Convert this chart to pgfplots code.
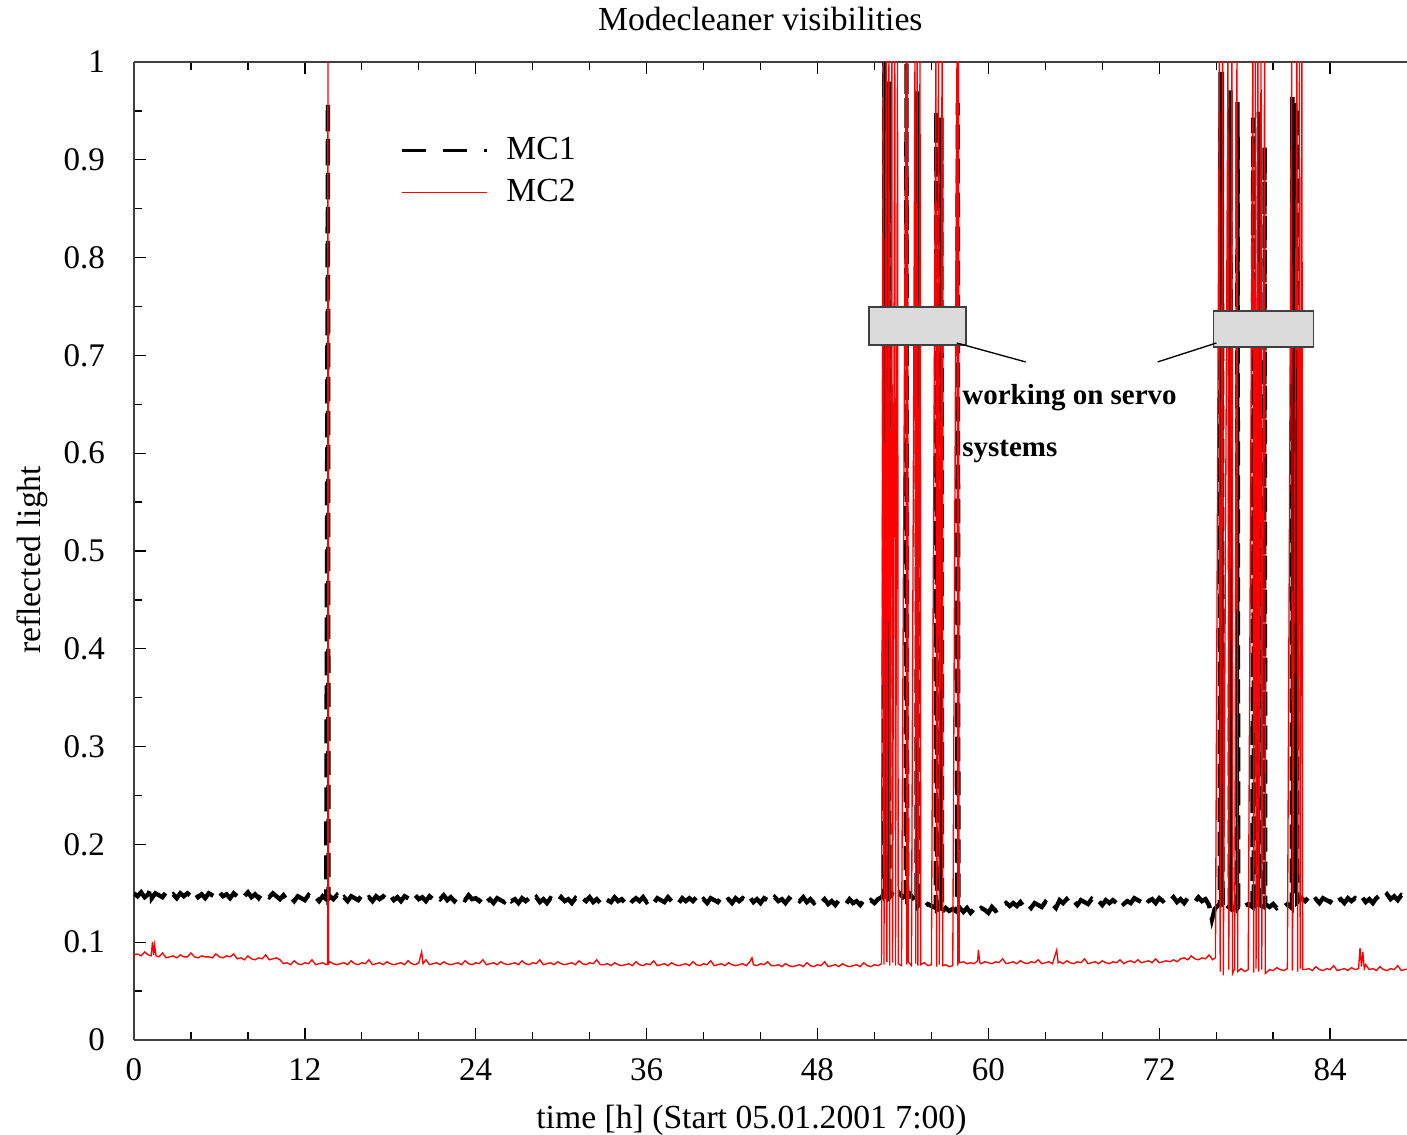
\documentclass[border=0pt]{standalone}
\usepackage{fontspec}
\setmainfont{Liberation Serif}
\usepackage{pgfplots}
\pgfplotsset{compat=1.18}
\begin{document}
\fontsize{10.1}{12}\selectfont
\begin{tikzpicture}
\begin{axis}[
    scale only axis, width=381.9pt, height=293.4pt,
    xmin=0, xmax=89.4, ymin=0, ymax=1,
    axis y line*=left,
    xtick={0,12,24,36,48,60,72,84},
    ytick={0,0.1,0.2,0.3,0.4,0.5,0.6,0.7,0.8,0.9,1},
    minor x tick num=2, minor y tick num=1,
    major tick length=3.6pt, minor tick length=2.4pt,
    tick style={black, line width=0.4pt},
    axis line style={black!75, line width=0.5pt},
    /pgf/number format/assume math mode=true,
    yticklabel style={anchor=east, inner sep=0pt, xshift=-8.5pt, font=\fontsize{9.9}{12}\selectfont, /pgf/number format/fixed},
    xticklabel style={anchor=base, inner sep=0pt, yshift=-12.3pt, font=\fontsize{9.9}{12}\selectfont},
    xlabel={time [h] (Start 05.01.2001 7:00)},
    xlabel style={at={(0.485,-0.0905)}, anchor=base, inner sep=0pt},
    ylabel={reflected light},
    ylabel style={at={(-0.0738,0.491)}, anchor=base, inner sep=0pt},
    legend style={draw=none, fill=none, at={(0.209,0.931)}, anchor=north west,
        inner sep=0pt, row sep=0.4pt, nodes={inner sep=2pt},
        /tikz/every odd column/.append style={column sep=3.3pt}},
    legend cell align=left,
    legend image code/.code={\draw[#1] (0pt,0pt) -- (25.5pt,0pt);},
]
\addlegendimage{black, line width=0.9pt, dash pattern=on 7.2pt off 5.1pt}
\addlegendentry{MC1}
\addlegendimage{red, line width=0.4pt}
\addlegendentry{MC2}
% MC1
\addplot[black, line width=1.3pt, dash pattern=on 7.2pt off 3pt, forget plot] coordinates {
(0,0.150) (0.25,0.147) (0.5,0.151) (0.75,0.146) (1,0.149) (1.2,0.156) (1.25,0.145) (1.5,0.150)
(1.75,0.148) (2,0.146) (2.25,0.151) (2.5,0.147) (2.75,0.149) (3,0.145) (3.25,0.150) (3.5,0.147)
(3.75,0.150) (4,0.147) (4.25,0.151) (4.5,0.146) (4.75,0.149) (5,0.145) (5.25,0.150) (5.5,0.148)
(5.75,0.146) (6,0.151) (6.25,0.147) (6.5,0.149) (6.75,0.145) (7,0.150) (7.25,0.147) (7.5,0.150)
(7.75,0.147) (8,0.151) (8.25,0.146) (8.5,0.149) (8.75,0.145) (9,0.150) (9.25,0.148) (9.5,0.146)
(9.75,0.150)
(10,0.147) (10.25,0.144) (10.5,0.148) (10.75,0.143) (11,0.146) (11.25,0.142) (11.5,0.147)
(11.75,0.145) (12,0.143) (12.25,0.148) (12.5,0.144) (12.75,0.146) (13,0.142) (13.25,0.147)
(13.5,0.144) (13.62,0.960) (13.66,0.145) (13.75,0.147) (14,0.144) (14.25,0.148) (14.5,0.143)
(14.75,0.146) (15,0.142) (15.25,0.147) (15.5,0.145) (15.75,0.143) (16,0.148) (16.25,0.144)
(16.5,0.146) (16.75,0.142) (17,0.147) (17.25,0.144) (17.5,0.147) (17.75,0.144) (18,0.148)
(18.25,0.143) (18.5,0.146) (18.75,0.142) (19,0.147) (19.25,0.145) (19.5,0.143) (19.75,0.148)
(20,0.144) (20.25,0.146) (20.5,0.142) (20.75,0.147) (21,0.144) (21.25,0.147) (21.5,0.144)
(21.75,0.148) (22,0.143) (22.25,0.146) (22.5,0.142) (22.75,0.147) (23,0.145) (23.25,0.143)
(23.5,0.148) (23.75,0.144)
(24,0.145) (24.25,0.142) (24.5,0.146) (24.75,0.141) (25,0.144) (25.25,0.140) (25.5,0.145)
(25.75,0.143) (26,0.141) (26.25,0.146) (26.5,0.142) (26.75,0.144) (27,0.140) (27.25,0.145)
(27.5,0.142) (27.75,0.145) (28,0.142) (28.25,0.146) (28.5,0.141) (28.75,0.144) (29,0.140)
(29.25,0.145) (29.5,0.143) (29.75,0.141) (30,0.146) (30.25,0.142) (30.5,0.144) (30.75,0.140)
(31,0.145) (31.25,0.142) (31.5,0.145) (31.75,0.142) (32,0.146) (32.25,0.141) (32.5,0.144)
(32.75,0.140) (33,0.145) (33.25,0.143) (33.5,0.141) (33.75,0.146) (34,0.142) (34.25,0.144)
(34.5,0.140) (34.75,0.145) (35,0.142) (35.25,0.145) (35.5,0.142) (35.75,0.146) (36,0.141)
(36.25,0.144) (36.5,0.140) (36.75,0.145) (37,0.143) (37.25,0.141) (37.5,0.146) (37.75,0.142)
(38,0.144) (38.25,0.140) (38.5,0.145) (38.75,0.142) (39,0.145) (39.25,0.142) (39.5,0.146)
(39.75,0.141) (40,0.144) (40.25,0.140) (40.5,0.145) (40.75,0.143) (41,0.141) (41.25,0.146)
(41.5,0.142) (41.75,0.144) (42,0.140) (42.25,0.145) (42.5,0.142) (42.75,0.145) (43,0.142)
(43.25,0.146) (43.5,0.141) (43.75,0.144) (44,0.140) (44.25,0.145) (44.5,0.143) (44.75,0.141)
(45,0.146) (45.25,0.142) (45.5,0.144) (45.75,0.140) (46,0.145) (46.25,0.142) (46.5,0.145)
(46.75,0.142) (47,0.146) (47.25,0.141) (47.5,0.144) (47.75,0.140)
(48,0.143) (48.25,0.140) (48.5,0.144) (48.75,0.139) (49,0.142) (49.25,0.138) (49.5,0.143)
(49.75,0.141) (50,0.139) (50.25,0.144) (50.5,0.140) (50.75,0.142) (51,0.138) (51.25,0.143)
(51.5,0.140) (51.75,0.143) (52,0.140) (52.25,0.144)
(52.5,0.146) (52.65,0.149) (52.7,1.0) (52.75,0.147) (52.95,0.150) (53.0,0.980) (53.05,0.146)
(53.25,0.149) (53.5,0.145) (53.75,0.150) (54.0,0.146) (54.2,0.148) (54.25,1.0) (54.3,0.145)
(54.5,0.149) (54.75,0.144) (54.95,0.140) (55.0,0.970) (55.05,0.137) (55.25,0.140) (55.5,0.136)
(55.75,0.139) (56.0,0.137) (56.3,0.135) (56.35,0.950) (56.4,0.133) (56.65,0.135) (56.7,0.943)
(56.75,0.131) (57.0,0.135) (57.25,0.132) (57.5,0.134) (57.8,0.131) (57.85,0.958) (57.9,0.134)
(58,0.135) (58.25,0.131) (58.5,0.135) (58.75,0.130) (59,0.134) (59.25,0.131) (59.5,0.135)
(59.75,0.133) (60,0.130) (60.25,0.136) (60.5,0.132) (60.75,0.134)
(61,0.136) (61.25,0.140) (61.5,0.137) (61.75,0.140) (62,0.137) (62.25,0.141) (62.5,0.136)
(62.75,0.139) (63,0.135) (63.25,0.140) (63.5,0.138) (63.75,0.136) (64,0.141) (64.25,0.137)
(64.5,0.139) (64.75,0.135)
(65,0.143) (65.25,0.140) (65.5,0.144) (65.75,0.139) (66,0.142) (66.25,0.138) (66.5,0.143)
(66.75,0.141) (67,0.139) (67.25,0.144) (67.5,0.140) (67.75,0.142) (68,0.138) (68.25,0.143)
(68.5,0.140) (68.75,0.143) (69,0.140) (69.25,0.144) (69.5,0.139) (69.75,0.142)
(70,0.140) (70.25,0.145) (70.5,0.143) (70.75,0.141) (71,0.146) (71.25,0.142) (71.5,0.144)
(71.75,0.140) (72,0.145) (72.25,0.142) (72.5,0.145) (72.75,0.142) (73,0.146) (73.25,0.141)
(73.5,0.144) (73.75,0.140) (74,0.145) (74.25,0.143) (74.5,0.141) (74.75,0.146) (75,0.142)
(75.25,0.144)
(75.5,0.138) (75.7,0.123) (75.9,0.134) (76.1,0.137) (76.25,0.139) (76.3,0.990) (76.35,0.136)
(76.4,0.990) (76.45,0.134) (76.7,0.138) (76.95,0.135) (77.0,0.971) (77.05,0.137) (77.25,0.134)
(77.45,0.139) (77.5,0.959) (77.55,0.136) (77.75,0.140) (78.0,0.137) (78.25,0.139) (78.55,0.136)
(78.6,0.943) (78.65,0.139) (78.95,0.135) (79.0,0.949) (79.05,0.138) (79.35,0.136) (79.4,0.913)
(79.45,0.139) (79.75,0.136) (80,0.139) (80.25,0.135) (80.5,0.138) (80.75,0.136) (81,0.139)
(81.3,0.135) (81.35,0.964) (81.4,0.150) (81.45,0.962) (81.5,0.150) (81.55,0.958) (81.6,0.150)
(81.65,0.955) (81.7,0.141)
(82,0.145) (82.25,0.142) (82.5,0.146) (82.75,0.141) (83,0.144) (83.25,0.140) (83.5,0.145)
(83.75,0.143) (84,0.141) (84.25,0.146) (84.5,0.142) (84.75,0.144) (85,0.140) (85.25,0.145)
(85.5,0.142) (85.75,0.145) (86,0.142) (86.25,0.146) (86.5,0.141) (86.75,0.144) (87,0.140)
(87.25,0.145) (87.5,0.148) (87.75,0.145) (88,0.149) (88.25,0.144) (88.5,0.147) (88.75,0.143)
(89,0.148) (89.25,0.146) (89.5,0.144)
};
% MC2
\addplot[red, line width=0.4pt, forget plot] coordinates {
(0,0.087) (0.25,0.088) (0.5,0.086) (0.75,0.090) (1,0.087) (1.2,0.086) (1.3,0.100) (1.38,0.087)
(1.45,0.097) (1.55,0.086) (1.75,0.085) (2,0.089) (2.25,0.084) (2.5,0.085) (2.75,0.086) (3,0.084)
(3.25,0.087) (3.5,0.085) (3.75,0.085) (4,0.089) (4.25,0.085) (4.5,0.084) (4.75,0.086) (5,0.085)
(5.25,0.085) (5.5,0.084) (5.75,0.088) (6,0.085) (6.25,0.084) (6.5,0.086) (6.75,0.085) (7,0.088)
(7.25,0.083) (7.5,0.084) (7.75,0.082) (8,0.086) (8.25,0.083) (8.5,0.082) (8.75,0.084) (9,0.083)
(9.25,0.087) (9.5,0.082) (9.75,0.083) (10,0.084) (10.25,0.082)
(10.5,0.078) (10.75,0.079) (11,0.077) (11.25,0.081) (11.5,0.078) (11.75,0.077) (12,0.079)
(12.25,0.078) (12.5,0.082) (12.75,0.077) (13,0.078) (13.25,0.079) (13.5,0.077) (13.6,0.078)
(13.62,1.02) (13.66,0.078) (13.75,0.080) (14,0.078) (14.25,0.077) (14.5,0.078) (14.75,0.079)
(15,0.077) (15.25,0.081) (15.5,0.078) (15.75,0.077) (16,0.079) (16.25,0.078) (16.5,0.082)
(16.75,0.077) (17,0.078) (17.25,0.079) (17.5,0.077) (17.75,0.080) (18,0.078) (18.25,0.077)
(18.5,0.078) (18.75,0.079) (19,0.077) (19.25,0.081) (19.5,0.078) (19.75,0.077) (20,0.079)
(20.2,0.090) (20.3,0.078) (20.5,0.082) (20.75,0.077) (21,0.078) (21.25,0.079) (21.5,0.077)
(21.75,0.080) (22,0.078) (22.25,0.077) (22.5,0.078) (22.75,0.079) (23,0.077) (23.25,0.081)
(23.5,0.078) (23.75,0.077) (24,0.079) (24.25,0.078) (24.5,0.082) (24.75,0.077) (25,0.078)
(25.25,0.079) (25.5,0.077) (25.75,0.080) (26,0.078) (26.25,0.077) (26.5,0.078) (26.75,0.079)
(27,0.077) (27.25,0.081) (27.5,0.078) (27.75,0.077) (28,0.079) (28.25,0.078) (28.5,0.082)
(28.75,0.077) (29,0.078) (29.25,0.079) (29.5,0.077) (29.75,0.080) (30,0.078) (30.25,0.077)
(30.5,0.078) (30.75,0.079) (31,0.077) (31.25,0.081) (31.5,0.078) (31.75,0.077) (32,0.079)
(32.25,0.078) (32.5,0.082) (32.75,0.077) (33,0.077) (33.25,0.078) (33.5,0.076) (33.75,0.079)
(34,0.077) (34.25,0.076) (34.5,0.077) (34.75,0.078) (35,0.076) (35.25,0.080) (35.5,0.077)
(35.75,0.076) (36,0.078) (36.25,0.077) (36.5,0.081) (36.75,0.076) (37,0.077) (37.25,0.078)
(37.5,0.076) (37.75,0.079) (38,0.077) (38.25,0.076) (38.5,0.077) (38.75,0.078) (39,0.076)
(39.25,0.080) (39.5,0.077) (39.75,0.076) (40,0.078) (40.25,0.077) (40.5,0.081) (40.75,0.076)
(41,0.077) (41.25,0.078) (41.5,0.076) (41.75,0.079) (42,0.077) (42.25,0.076) (42.5,0.077)
(42.75,0.078) (43,0.076) (43.25,0.080) (43.4,0.084) (43.5,0.077) (43.75,0.076) (44,0.078)
(44.25,0.077) (44.5,0.080) (44.75,0.076) (45,0.076) (45.25,0.077) (45.5,0.075) (45.75,0.078)
(46,0.076) (46.25,0.075) (46.5,0.076) (46.75,0.077) (47,0.075) (47.25,0.079) (47.5,0.076)
(47.75,0.075) (48,0.077) (48.25,0.076) (48.5,0.080) (48.75,0.075) (49,0.076) (49.25,0.077)
(49.5,0.075) (49.75,0.078) (50,0.076) (50.25,0.075) (50.5,0.076) (50.75,0.077) (51,0.075)
(51.25,0.079) (51.5,0.076) (51.75,0.075) (52,0.077) (52.25,0.076)
(52.5,0.078) (52.62,1.02) (52.67,0.077) (52.82,1.02) (52.87,0.080) (53.02,1.02) (53.07,0.076)
(53.22,1.02) (53.27,0.079) (53.43,1.02) (53.48,0.076) (53.62,1.02) (53.67,0.078) (53.9,0.076)
(54.22,1.02) (54.27,0.077) (54.32,1.02) (54.37,0.080) (54.6,0.076) (54.85,1.02) (54.9,0.078)
(55.0,1.02) (55.05,0.076) (55.2,1.02) (55.25,0.077) (55.5,0.079) (55.75,0.076) (56.0,0.077)
(56.32,1.02) (56.37,0.075) (56.5,1.02) (56.55,0.077) (56.75,1.02) (56.8,0.076) (57.0,0.077)
(57.25,0.075) (57.5,0.076) (57.8,1.02) (57.85,0.076) (57.9,1.02) (57.95,0.079)
(58.25,0.080) (58.5,0.078) (58.75,0.079) (59,0.078) (59.25,0.081) (59.3,0.092) (59.4,0.079)
(59.5,0.078) (59.75,0.080) (60,0.079) (60.25,0.078) (60.5,0.080) (60.75,0.079) (61,0.083)
(61.25,0.078) (61.5,0.079) (61.75,0.080) (62,0.078) (62.25,0.081) (62.5,0.079) (62.75,0.078)
(63,0.080) (63.25,0.079) (63.5,0.082) (63.75,0.078) (64,0.079) (64.25,0.080) (64.5,0.078)
(64.8,0.092) (64.9,0.079) (65,0.080) (65.25,0.078) (65.5,0.081) (65.75,0.079) (66,0.078)
(66.25,0.080) (66.5,0.079) (66.75,0.083) (67,0.078) (67.25,0.079) (67.5,0.080) (67.75,0.078)
(68,0.081) (68.25,0.079) (68.5,0.078) (68.75,0.080) (69,0.079) (69.25,0.082) (69.5,0.078)
(69.75,0.080) (70,0.081) (70.25,0.079) (70.5,0.082) (70.75,0.079) (71,0.080) (71.25,0.081)
(71.5,0.079) (71.75,0.083) (72,0.079) (72.25,0.080) (72.5,0.081) (72.75,0.080) (73,0.082)
(73.25,0.080) (73.5,0.083) (73.75,0.084) (74,0.082) (74.25,0.086) (74.5,0.083) (74.75,0.082)
(75,0.084) (75.25,0.083) (75.5,0.087) (75.75,0.082) (75.95,0.084)
(76.23,1.02) (76.28,0.070) (76.45,1.02) (76.5,0.066) (76.83,1.02) (76.88,0.072) (77.1,1.02)
(77.15,0.068) (77.3,0.073) (77.46,1.02) (77.51,0.070) (77.75,0.073) (78.0,0.070) (78.25,0.072)
(78.58,1.02) (78.63,0.069) (78.75,1.02) (78.8,0.073) (78.93,1.02) (78.98,0.070) (79.15,1.02)
(79.2,0.072) (79.4,1.02) (79.45,0.068) (79.75,0.072) (80,0.071) (80.25,0.074) (80.5,0.072)
(80.75,0.071) (81,0.073) (81.3,1.02) (81.35,0.071) (81.67,1.02) (81.72,0.070) (81.85,1.02)
(81.9,0.073) (82.02,1.02) (82.07,0.072)
(82.25,0.072) (82.5,0.073) (82.75,0.071) (83,0.075) (83.25,0.072) (83.5,0.071) (83.75,0.073)
(84,0.072) (84.25,0.076) (84.5,0.071) (84.75,0.072) (85,0.073) (85.25,0.071) (85.5,0.074)
(85.75,0.072) (86,0.073) (86.1,0.094) (86.2,0.075) (86.3,0.090) (86.4,0.073) (86.5,0.077)
(86.75,0.072) (87,0.073) (87.25,0.071) (87.5,0.075) (87.75,0.072) (88,0.071) (88.25,0.073)
(88.5,0.072) (88.75,0.076) (89,0.071) (89.25,0.072) (89.5,0.073)
};
% annotation
\draw[black!75, fill=black!14, line width=0.5pt] (axis cs:51.60,0.7106) rectangle (axis cs:58.41,0.7495);
\draw[black!75, fill=black!14, line width=0.5pt] (axis cs:75.82,0.7086) rectangle (axis cs:82.84,0.7454);
\draw[black, line width=0.4pt] (axis cs:57.78,0.7127) -- (axis cs:62.62,0.6933);
\draw[black, line width=0.4pt] (axis cs:71.89,0.6933) -- (axis cs:76.02,0.7127);
\node[anchor=base west, inner sep=0pt, font=\bfseries\fontsize{8.7}{10}\selectfont] at (axis cs:58.13,0.650) {working on servo};
\node[anchor=base west, inner sep=0pt, font=\bfseries\fontsize{8.7}{10}\selectfont] at (axis cs:58.13,0.597) {systems};
\coordinate (ttl) at ([yshift=9.3pt]rel axis cs:0.492,1);
\coordinate (bbsw) at ([xshift=-40.2pt, yshift=-28.5pt]rel axis cs:0,0);
\coordinate (bbne) at ([yshift=18.6pt]rel axis cs:1,1);
\end{axis}
\node[anchor=base, inner sep=0pt] at (ttl) {Modecleaner visibilities};
\pgfresetboundingbox
\path[use as bounding box] (bbsw) rectangle (bbne);
\end{tikzpicture}
\end{document}
